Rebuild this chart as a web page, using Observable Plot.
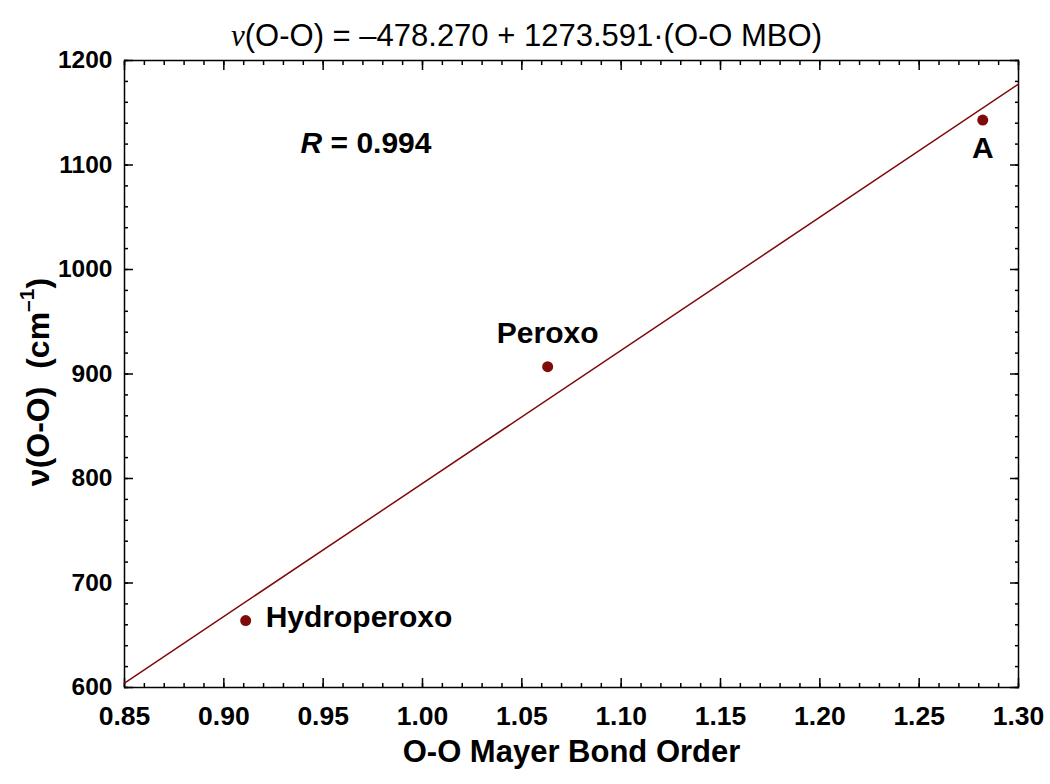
<!DOCTYPE html>
<html>
<head>
<meta charset="utf-8">
<script src="https://cdn.jsdelivr.net/npm/d3@7"></script>
<script src="https://cdn.jsdelivr.net/npm/@observablehq/plot@0.6"></script>
<style>
  html, body { margin: 0; padding: 0; background: #fff; }
  svg text { font-family: "Liberation Sans", Arial, sans-serif; }
</style>
</head>
<body>
<div id="chart"></div>
<script>
// ---- data ----
const names = ["Hydroperoxo", "Peroxo", "A"];
const mbo = [0.911, 1.063, 1.282];
const freq = [664, 907, 1143];
const intercept = -478.270;
const slope = 1273.591;
const fitX = [0.85, 1.30];
const xMajor = [0.85, 0.90, 0.95, 1.00, 1.05, 1.10, 1.15, 1.20, 1.25, 1.30];
const xMinor = d3.range(85, 131).map(d => d / 100);
const yMajor = [600, 700, 800, 900, 1000, 1100, 1200];
const yMinor = d3.range(600, 1201, 20);
const titleText = "ν(O-O) = –478.270 + 1273.591·(O-O MBO)";
const rText = "R = 0.994";
const xLabel = "O-O Mayer Bond Order";
const yLabel = "ν(O-O)\u00a0\u00a0(cm–1)";

const points = names.map((n, i) => ({name: n, x: mbo[i], y: freq[i]}));
const fit = fitX.map(x => ({x, y: intercept + slope * x}));

const red = "#7f0a0a";
const tickStroke = {stroke: "black", strokeWidth: 1.5};

const chart = Plot.plot({
  width: 1050,
  height: 784,
  marginLeft: 124,
  marginRight: 32,
  marginTop: 60,
  marginBottom: 97,
  x: {domain: [0.85, 1.30]},
  y: {domain: [600, 1200]},
  style: {background: "white", color: "black", overflow: "visible"},
  marks: [
    // ticks, inward, all four sides
    Plot.axisX({anchor: "bottom", ticks: xMinor, tickSize: -4, text: null, label: null, ...tickStroke}),
    Plot.axisX({anchor: "bottom", ticks: xMajor, tickSize: -9, text: null, label: null, ...tickStroke}),
    Plot.axisX({anchor: "top", ticks: xMinor, tickSize: -4, text: null, label: null, ...tickStroke}),
    Plot.axisX({anchor: "top", ticks: xMajor, tickSize: -9, text: null, label: null, ...tickStroke}),
    Plot.axisY({anchor: "left", ticks: yMinor, tickSize: -4, text: null, label: null, ...tickStroke}),
    Plot.axisY({anchor: "left", ticks: yMajor, tickSize: -9, text: null, label: null, ...tickStroke}),
    Plot.axisY({anchor: "right", ticks: yMinor, tickSize: -4, text: null, label: null, ...tickStroke}),
    Plot.axisY({anchor: "right", ticks: yMajor, tickSize: -9, text: null, label: null, ...tickStroke}),
    // tick labels
    Plot.axisX({anchor: "bottom", ticks: xMajor, tickSize: 0, tickPadding: 19, tickFormat: d3.format(".2f"),
      label: null, fontSize: 26.5, fontWeight: "bold", fill: "black"}),
    Plot.axisY({anchor: "left", ticks: yMajor, tickSize: 0, tickPadding: 12, tickFormat: d3.format("d"),
      label: null, fontSize: 24.5, fontWeight: "bold", fill: "black"}),
    Plot.frame({stroke: "black", strokeWidth: 1.5}),
    // fit line
    Plot.line(fit, {x: "x", y: "y", stroke: red, strokeWidth: 1.5}),
    // points
    Plot.dot(points, {x: "x", y: "y", r: 5.5, fill: red, stroke: "none"}),
    // point labels
    Plot.text(points.filter(d => d.name === "Hydroperoxo"), {x: "x", y: "y", text: "name", textAnchor: "start",
      dx: 20, dy: -3, fontSize: 30, fontWeight: "bold", fill: "black"}),
    Plot.text(points.filter(d => d.name === "Peroxo"), {x: "x", y: "y", text: "name",
      dy: -33, fontSize: 30, fontWeight: "bold", fill: "black"}),
    Plot.text(points.filter(d => d.name === "A"), {x: "x", y: "y", text: "name",
      dy: 28, fontSize: 30, fontWeight: "bold", fill: "black"}),
    // R annotation
    Plot.text([rText], {x: 0.9386, y: 1121, textAnchor: "start", fontSize: 30, fontWeight: "bold", fill: "black"}),
    // title
    Plot.text([titleText], {frameAnchor: "top", textAnchor: "middle", dx: -45, dy: -36.6, fontSize: 31, fill: "black"}),
    // axis labels
    Plot.text([xLabel], {frameAnchor: "bottom", textAnchor: "middle", dy: 74.4, fontSize: 31, fontWeight: "bold", fill: "black"}),
    Plot.text([yLabel], {frameAnchor: "left", textAnchor: "middle", rotate: -90, dx: -86, dy: 8, fontSize: 32,
      fontWeight: "bold", fill: "black"})
  ]
});

document.getElementById("chart").appendChild(chart);

// italic R, italic nu in title and superscript −1
d3.select(chart).selectAll("text").each(function() {
  const t = d3.select(this);
  const s = this.textContent;
  if (s === rText) {
    t.text(null);
    t.append("tspan").attr("font-style", "italic").text("R");
    t.append("tspan").text(" = 0.994");
  } else if (s === titleText) {
    t.text(null);
    t.append("tspan").attr("font-style", "italic").attr("font-family", "Liberation Serif, serif").text("ν");
    t.append("tspan").text(titleText.slice(1));
  } else if (s === yLabel) {
    t.text(null);
    t.append("tspan").text("ν(O-O)\u00a0\u00a0(cm");
    t.append("tspan").attr("font-size", 21).attr("dy", "-0.7em").text("–1");
    t.append("tspan").attr("dy", "0.47em").text(")");
  }
});
</script>
</body>
</html>
